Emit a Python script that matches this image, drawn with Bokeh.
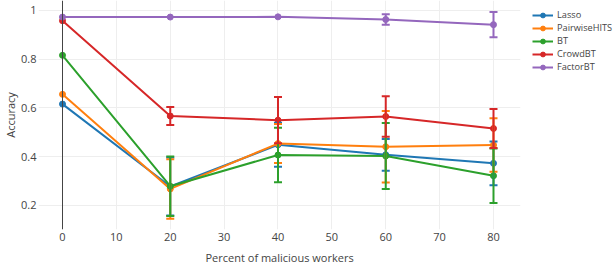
from bokeh.plotting import figure
from bokeh.models import (ColumnDataSource, Whisker, TeeHead, Legend, LegendItem,
                          Span, FixedTicker, BoxAnnotation, Title)
from bokeh.embed import file_html
from bokeh.resources import INLINE

x = [0, 20, 40, 60, 80]
names = ["Lasso", "PairwiseHITS", "BT", "CrowdBT", "FactorBT"]
colors = ["#1f77b4", "#ff7f0e", "#2ca02c", "#d62728", "#9467bd"]

lasso = [0.616, 0.278, 0.449, 0.408, 0.373]
lasso_err = [0, 0.119, 0.09, 0.065, 0.09]
pairwise = [0.656, 0.268, 0.454, 0.441, 0.448]
pairwise_err = [0, 0.122, 0.08, 0.147, 0.11]
bt = [0.816, 0.279, 0.407, 0.403, 0.322]
bt_err = [0, 0.122, 0.112, 0.135, 0.112]
crowd = [0.958, 0.567, 0.55, 0.565, 0.516]
crowd_err = [0, 0.037, 0.095, 0.083, 0.08]
factor = [0.973, 0.973, 0.974, 0.963, 0.942]
factor_err = [0, 0, 0, 0.022, 0.052]

series = [lasso, pairwise, bt, crowd, factor]
errors = [lasso_err, pairwise_err, bt_err, crowd_err, factor_err]

y_ticks = [0.2, 0.4, 0.6, 0.8, 1.0]
x_ticks = [0, 10, 20, 30, 40, 50, 60, 70, 80]

FONT = "Open Sans"
TXT = "#444444"

X_END = 84.97  # end of the plotting area (legend sits to its right)

p = figure(width=614, height=268, output_backend="svg", toolbar_location=None,
           x_range=(-4.455, 102.46), y_range=(0.1015, 1.041),
           min_border_left=38, min_border_right=0, min_border_top=0,
           min_border_bottom=39)
p.outline_line_color = None
p.background_fill_color = "white"

for ax in (p.xaxis[0], p.yaxis[0]):
    ax.axis_line_color = None
    ax.major_tick_line_color = None
    ax.minor_tick_line_color = None
    ax.major_tick_out = 0
    ax.major_tick_in = 0
    ax.minor_tick_out = 0
    ax.minor_tick_in = 0
    ax.major_label_text_font = FONT
    ax.major_label_text_font_size = "11px"
    ax.major_label_text_color = TXT
    ax.axis_label_text_font = FONT
    ax.axis_label_text_font_size = "11px"
    ax.axis_label_text_font_style = "normal"
    ax.axis_label_text_color = TXT

p.xaxis[0].ticker = FixedTicker(ticks=x_ticks)
p.yaxis[0].ticker = FixedTicker(ticks=y_ticks)
p.yaxis[0].major_label_overrides = {t: ("1" if t == 1.0 else str(t)) for t in y_ticks}
p.yaxis[0].axis_label = "Accuracy"
p.xaxis[0].major_label_standoff = 3
p.yaxis[0].major_label_standoff = 2
p.yaxis[0].axis_label_standoff = 0

p.add_layout(Title(text="Percent of malicious workers", align="left", offset=167,
                   standoff=8, text_font=FONT, text_font_size="11px",
                   text_font_style="normal", text_color=TXT), "below")

p.xgrid[0].ticker = FixedTicker(ticks=x_ticks)
p.ygrid[0].ticker = FixedTicker(ticks=y_ticks)
p.xgrid.grid_line_color = "#eeeeee"
p.ygrid.grid_line_color = "#eeeeee"
p.xgrid.grid_line_width = 1
p.ygrid.grid_line_width = 1

# blank out the grid to the right of the plotting area
p.add_layout(BoxAnnotation(left=X_END, fill_color="white", fill_alpha=1,
                           line_alpha=0, level="glyph"))

p.add_layout(Span(location=0, dimension="height", line_color=TXT, line_width=1))

items = []
for name, col, ys, es in zip(names, colors, series, errors):
    bx = [xi for xi, e in zip(x, es) if e > 0]
    up = [yi + e for yi, e in zip(ys, es) if e > 0]
    lo = [yi - e for yi, e in zip(ys, es) if e > 0]
    if bx:
        src = ColumnDataSource(dict(base=bx, upper=up, lower=lo))
        w = Whisker(base="base", upper="upper", lower="lower", source=src,
                    dimension="height", line_color=col, line_width=2,
                    upper_head=TeeHead(size=8, line_color=col, line_width=2),
                    lower_head=TeeHead(size=8, line_color=col, line_width=2),
                    level="glyph")
        p.add_layout(w)
    ln = p.line(x, ys, line_color=col, line_width=2)
    sc = p.scatter(x, ys, size=6, fill_color=col, line_color=col)
    items.append(LegendItem(label=name, renderers=[ln, sc]))

legend = Legend(items=items, location=(494, 156), padding=0, margin=0,
                border_line_alpha=0, background_fill_alpha=0,
                label_text_font=FONT, label_text_font_size="9.2px",
                label_text_color=TXT,
                glyph_width=21, glyph_height=12,
                label_height=12, spacing=0, label_standoff=4)
p.add_layout(legend)

open("out.html", "w").write(file_html(p, INLINE))
